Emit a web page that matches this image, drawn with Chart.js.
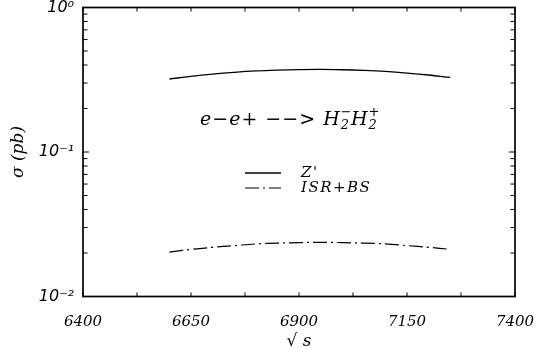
<!DOCTYPE html>
<html><head><meta charset="utf-8">
<script src="https://cdn.jsdelivr.net/npm/chart.js@4.4.0/dist/chart.umd.min.js"></script>
<style>html,body{margin:0;padding:0;background:#fff}#wrap{width:539px;height:353px}</style>
</head><body><div id="wrap"><canvas id="c" width="539" height="353"></canvas></div>
<script>
// ---- data ----
const sqrtS = [6600,6650,6700,6750,6800,6850,6900,6950,7000,7050,7100,7150,7200,7250];
const zPrime = [0.320,0.334,0.346,0.356,0.364,0.369,0.372,0.373,0.371,0.367,0.361,0.352,0.341,0.328];
const isrBs  = [0.0203,0.0212,0.0219,0.0225,0.0231,0.0234,0.0236,0.0237,0.0236,0.0234,0.0231,0.0225,0.0219,0.0212];
const seriesNames = ["Z'", "ISR+BS"];
const xTickLabels = ['6400','6650','6900','7150','7400'];
const yDecades = [0.01, 0.1, 1];
const yTickLabels = ['10\u207B\u00B2','10\u207B\u00B9','10\u2070'];
const yMinorTicks = [0.02,0.03,0.04,0.05,0.06,0.07,0.08,0.09,0.2,0.3,0.4,0.5,0.6,0.7,0.8,0.9];

const SERIF = '"DejaVu Serif","Liberation Serif",serif';
const SANS = '"DejaVu Sans","Liberation Sans",sans-serif';

const framePlugin = {
  id: 'frame',
  afterDraw(chart) {
    const {ctx, chartArea: a, scales: {x, y}} = chart;
    ctx.save();
    ctx.strokeStyle = '#000';
    ctx.lineWidth = 1;
    const line = (x1, y1, x2, y2) => { ctx.beginPath(); ctx.moveTo(x1, y1); ctx.lineTo(x2, y2); ctx.stroke(); };
    x.ticks.forEach(t => {
      const px = x.getPixelForValue(t.value);
      line(px, a.bottom, px, a.bottom - 4);
      line(px, a.top, px, a.top + 4);
    });
    y.ticks.forEach(t => {
      const py = y.getPixelForValue(t.value);
      const major = yDecades.some(d => Math.abs(d - t.value) < 1e-9);
      const len = major ? 6 : 4.5;
      line(a.left, py, a.left + len, py);
      line(a.right, py, a.right - len, py);
    });
    ctx.lineWidth = 1.7;
    ctx.strokeRect(a.left, a.top, a.width, a.height);

    // annotation: e-e+ --> H2- H2+
    ctx.fillStyle = '#000';
    ctx.textBaseline = 'alphabetic';
    ctx.textAlign = 'left';
    ctx.letterSpacing = '1px';
    const big = 'italic 19px ' + SERIF, small = 'italic 13px ' + SERIF;
    let cx = 200; const by = 125;
    ctx.font = big;
    const s1 = 'e\u2212e+ \u2212\u2212> H';
    ctx.fillText(s1, cx, by); cx += ctx.measureText(s1).width;
    ctx.font = small;
    ctx.fillText('2', cx, by + 4); ctx.fillText('\u2212', cx, by - 9);
    cx += ctx.measureText('2').width + 1;
    ctx.font = big;
    ctx.fillText('H', cx, by); cx += ctx.measureText('H').width;
    ctx.font = small;
    ctx.fillText('2', cx, by + 4); ctx.fillText('+', cx, by - 9);

    // legend
    const ds = chart.data.datasets;
    const rows = [173, 188];
    ds.forEach((d, i) => {
      ctx.save();
      ctx.lineWidth = d.borderWidth;
      ctx.setLineDash(d.borderDash || []);
      line(245, rows[i], 281, rows[i]);
      ctx.restore();
      ctx.font = 'italic 15px ' + SERIF;
      ctx.letterSpacing = '1.5px';
      ctx.textBaseline = 'middle';
      ctx.fillText(d.label, 301, rows[i]);
    });
    ctx.restore();
  }
};

new Chart(document.getElementById('c'), {
  type: 'line',
  data: {
    datasets: [
      { label: seriesNames[0], data: sqrtS.map((v, i) => ({x: v, y: zPrime[i]})),
        borderColor: '#000', borderWidth: 1.3, pointRadius: 0, tension: 0.4, fill: false },
      { label: seriesNames[1], data: sqrtS.map((v, i) => ({x: v, y: isrBs[i]})),
        borderColor: '#000', borderWidth: 1.2, borderDash: [14, 4, 2, 4], pointRadius: 0, tension: 0.4, fill: false }
    ]
  },
  options: {
    responsive: false,
    animation: false,
    devicePixelRatio: 1,
    layout: { padding: { top: 7.5, right: 24, left: 0, bottom: 0 } },
    plugins: { legend: { display: false }, tooltip: { enabled: false } },
    scales: {
      x: {
        type: 'linear', min: 6400, max: 7400,
        grid: { display: false, drawTicks: false }, border: { display: false },
        ticks: {
          stepSize: 125, autoSkip: false, maxRotation: 0, padding: 17,
          color: '#000', font: { family: SERIF, style: 'italic', size: 15 },
          callback: v => { const s = String(v); return xTickLabels.includes(s) ? s : ''; }
        },
        title: { display: true, text: '\u221A s', color: '#000', font: { family: SERIF, style: 'italic', size: 17 }, padding: { top: 0, bottom: 1 } },
        afterFit: s => { s.height = 56.5; s.paddingLeft = 0; s.paddingRight = 0; }
      },
      y: {
        type: 'logarithmic', min: 0.01, max: 1,
        grid: { display: false, drawTicks: false }, border: { display: false },
        afterBuildTicks: s => {
          s.ticks = [...yDecades, ...yMinorTicks].sort((a, b) => a - b).map(v => ({value: v}));
        },
        ticks: {
          autoSkip: false, padding: 9, color: '#000',
          font: { family: SANS, style: 'italic', size: 16 },
          callback: v => { const i = yDecades.findIndex(d => Math.abs(d - v) < 1e-9); return i >= 0 ? yTickLabels[i] : ''; }
        },
        title: { display: true, text: '\u03C3 (pb)', color: '#000', font: { family: SERIF, style: 'italic', size: 17 }, padding: { top: 8, bottom: 4 } },
        afterFit: s => { s.width = 83; s.paddingTop = 0; s.paddingBottom = 0; }
      }
    }
  },
  plugins: [framePlugin]
});
</script></body></html>
